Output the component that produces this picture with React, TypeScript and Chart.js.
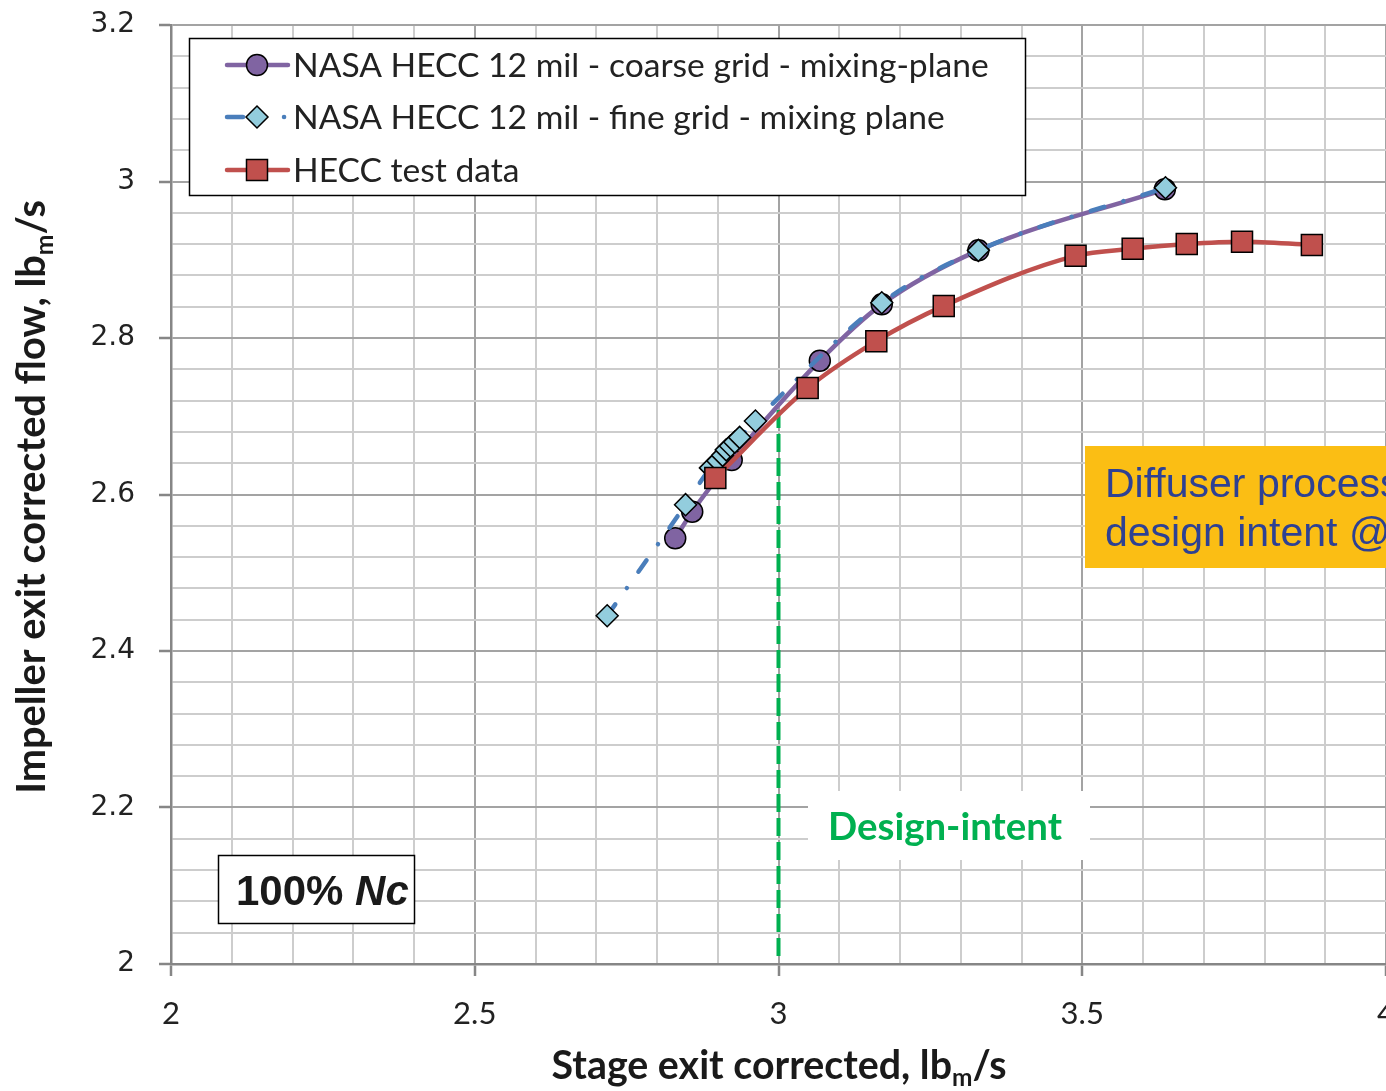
import React, { useEffect, useRef } from 'react';
import { Chart, registerables } from 'chart.js';

Chart.register(...registerables);

// ---- data ----
const coarseX = [2.830, 2.858, 2.923, 3.068, 3.170, 3.329, 3.636];
const coarseY = [2.544, 2.578, 2.644, 2.771, 2.843, 2.912, 2.990];

const fineX = [2.718, 2.847, 2.888, 2.900, 2.908, 2.914, 2.921, 2.928, 2.936, 2.962, 3.170, 3.329, 3.637];
const fineY = [2.445, 2.587, 2.634, 2.643, 2.650, 2.657, 2.662, 2.667, 2.673, 2.694, 2.845, 2.912, 2.992];

const testX = [2.896, 3.048, 3.161, 3.272, 3.489, 3.583, 3.672, 3.763, 3.878];
const testY = [2.621, 2.736, 2.796, 2.841, 2.905, 2.914, 2.920, 2.923, 2.919];

const designX = [3.0, 3.0];
const designY = [2.708, 2.008];

const seriesNames = [
  'NASA HECC 12 mil - coarse grid - mixing-plane',
  'NASA HECC 12 mil - fine grid - mixing plane',
  'HECC test data',
];

const xTickValues = [2, 2.5, 3, 3.5, 4];
const yTickValues = [2, 2.2, 2.4, 2.6, 2.8, 3, 3.2];

const xTitle = [{ t: 'Stage exit corrected, lb' }, { t: 'm', sub: true }, { t: '/s' }];
const yTitle = [{ t: 'Impeller exit corrected flow, lb' }, { t: 'm', sub: true }, { t: '/s' }];
const designLabel = 'Design-intent';
const speedLabel = [{ t: '100% ' }, { t: 'Nc', italic: true }];
const noteLines = ['Diffuser process', 'design intent @'];

const COLORS = {
  coarse: '#8064a2',
  fineLine: '#4a7ebb',
  fineFill: '#93cddd',
  test: '#c0504d',
  design: '#00b050',
};

const pts = (xs: number[], ys: number[]) => xs.map((x, i) => ({ x, y: ys[i] }));
const isMult = (v: number, step: number) => Math.abs(v / step - Math.round(v / step)) < 1e-6;
const near = (v: number, list: number[]) => list.some((t) => Math.abs(t - v) < 1e-6);

type Seg = { t: string; sub?: boolean; italic?: boolean };

function segFont(s: Seg, size: number, weight: string, family: string) {
  const sz = s.sub ? size * 0.62 : size;
  return `${s.italic ? 'italic ' : ''}${weight} ${sz}px ${family}`;
}
function richWidth(ctx: CanvasRenderingContext2D, segs: Seg[], size: number, weight: string, family: string) {
  let w = 0;
  for (const s of segs) {
    ctx.font = segFont(s, size, weight, family);
    w += ctx.measureText(s.t).width;
  }
  return w;
}
function fitSize(ctx: CanvasRenderingContext2D, segs: Seg[], weight: string, family: string, target: number) {
  const w = richWidth(ctx, segs, 100, weight, family);
  return (100 * target) / w;
}
function drawRich(
  ctx: CanvasRenderingContext2D,
  segs: Seg[],
  x: number,
  y: number,
  size: number,
  weight: string,
  family: string,
  color: string,
  align: 'left' | 'center',
) {
  const total = richWidth(ctx, segs, size, weight, family);
  let cx = align === 'center' ? x - total / 2 : x;
  ctx.fillStyle = color;
  ctx.textAlign = 'left';
  for (const s of segs) {
    ctx.font = segFont(s, size, weight, family);
    const dy = s.sub ? size * 0.32 : 0;
    ctx.fillText(s.t, cx, y + dy);
    cx += ctx.measureText(s.t).width;
  }
}

function drawMarker(ctx: CanvasRenderingContext2D, kind: string, x: number, y: number) {
  ctx.save();
  ctx.lineWidth = 1.5;
  ctx.strokeStyle = '#000';
  ctx.beginPath();
  if (kind === 'circle') {
    ctx.fillStyle = COLORS.coarse;
    ctx.arc(x, y, 10.5, 0, Math.PI * 2);
  } else if (kind === 'diamond') {
    ctx.fillStyle = COLORS.fineFill;
    ctx.moveTo(x - 11, y);
    ctx.lineTo(x, y - 11);
    ctx.lineTo(x + 11, y);
    ctx.lineTo(x, y + 11);
    ctx.closePath();
  } else {
    ctx.fillStyle = COLORS.test;
    ctx.rect(x - 10.5, y - 10.5, 21, 21);
  }
  ctx.fill();
  ctx.stroke();
  ctx.restore();
}

const overlayPlugin = {
  id: 'overlay',
  afterDatasetsDraw(chart: any) {
    const ctx: CanvasRenderingContext2D = chart.ctx;
    ctx.save();
    ctx.textBaseline = 'middle';

    // Legend
    ctx.fillStyle = '#fff';
    ctx.fillRect(189, 38, 836, 157);
    ctx.strokeStyle = '#000';
    ctx.lineWidth = 1.5;
    ctx.strokeRect(189.5, 38.5, 836, 157);
    const rows = [65, 117, 170];
    const lsize = fitSize(ctx, [{ t: seriesNames[0] }], 'normal', 'Lato', 696);
    ctx.lineCap = 'round';
    ctx.lineWidth = 4.5;
    ctx.strokeStyle = COLORS.coarse;
    ctx.beginPath();
    ctx.moveTo(227, rows[0]);
    ctx.lineTo(288, rows[0]);
    ctx.stroke();
    drawMarker(ctx, 'circle', 257, rows[0]);
    ctx.strokeStyle = COLORS.fineLine;
    ctx.lineWidth = 4.5;
    ctx.beginPath();
    ctx.moveTo(227, rows[1]);
    ctx.lineTo(243, rows[1]);
    ctx.stroke();
    ctx.beginPath();
    ctx.moveTo(284, rows[1]);
    ctx.lineTo(284.1, rows[1]);
    ctx.stroke();
    drawMarker(ctx, 'diamond', 257, rows[1]);
    ctx.strokeStyle = COLORS.test;
    ctx.beginPath();
    ctx.moveTo(227, rows[2]);
    ctx.lineTo(288, rows[2]);
    ctx.stroke();
    drawMarker(ctx, 'square', 257, rows[2]);
    ctx.textBaseline = 'middle';
    for (let i = 0; i < 3; i++) {
      drawRich(ctx, [{ t: seriesNames[i] }], 293, rows[i] + 1, lsize, 'normal', 'Lato', '#222', 'left');
    }

    // Design-intent label
    ctx.fillStyle = '#fff';
    ctx.fillRect(808, 791, 282, 69);
    const dsize = fitSize(ctx, [{ t: designLabel }], 'bold', 'Lato', 234);
    ctx.textBaseline = 'middle';
    drawRich(ctx, [{ t: designLabel }], 945, 828, dsize, 'bold', 'Lato', COLORS.design, 'center');

    // 100% Nc box
    ctx.fillStyle = '#fff';
    ctx.fillRect(218, 855, 197, 69);
    ctx.strokeStyle = '#000';
    ctx.lineWidth = 1.5;
    ctx.strokeRect(218.5, 855.5, 196, 68);
    ctx.textBaseline = 'alphabetic';
    drawRich(ctx, speedLabel, 236, 905, 42, 'bold', '"Liberation Sans", Arial', '#1a1a1a', 'left');

    // Note box
    ctx.fillStyle = '#fbbe14';
    ctx.fillRect(1085, 446, 400, 122);
    ctx.textBaseline = 'alphabetic';
    drawRich(ctx, [{ t: noteLines[0] }], 1105, 497, 41, 'normal', '"Liberation Sans", Arial', '#2e4193', 'left');
    drawRich(ctx, [{ t: noteLines[1] }], 1105, 546, 41, 'normal', '"Liberation Sans", Arial', '#2e4193', 'left');

    ctx.restore();
  },
  afterDraw(chart: any) {
    const ctx: CanvasRenderingContext2D = chart.ctx;
    ctx.save();
    ctx.textBaseline = 'middle';
    const xs = fitSize(ctx, xTitle, 'bold', 'Lato', 455);
    drawRich(ctx, xTitle, 779, 1066, xs, 'bold', 'Lato', '#1a1a1a', 'center');
    const ys = fitSize(ctx, yTitle, 'bold', 'Lato', 594);
    ctx.translate(32, 497);
    ctx.rotate(-Math.PI / 2);
    drawRich(ctx, yTitle, 0, 0, ys, 'bold', 'Lato', '#1a1a1a', 'center');
    ctx.restore();
  },
};

export default function App() {
  const ref = useRef<HTMLCanvasElement | null>(null);

  useEffect(() => {
    const canvas = ref.current;
    if (!canvas) return;
    const gridColor = (major: boolean) => (major ? '#a3a3a3' : '#cdcdcd');
    const chart = new Chart(canvas, {
      type: 'scatter',
      data: {
        datasets: [
          {
            label: 'Design-intent',
            data: pts(designX, designY),
            showLine: true,
            borderColor: COLORS.design,
            borderWidth: 4,
            borderDash: [18, 6],
            pointRadius: 0,
            order: 4,
          },
          {
            label: seriesNames[0],
            data: pts(coarseX, coarseY),
            showLine: true,
            borderColor: COLORS.coarse,
            borderWidth: 4.5,
            cubicInterpolationMode: 'monotone',
            pointStyle: 'circle',
            pointRadius: 10.5,
            pointBackgroundColor: COLORS.coarse,
            pointBorderColor: '#000',
            pointBorderWidth: 1.5,
            order: 3,
          },
          {
            label: seriesNames[1],
            data: pts(fineX, fineY),
            showLine: true,
            borderColor: COLORS.fineLine,
            borderWidth: 4.5,
            borderDash: [14, 20, 0.01, 20],
            borderCapStyle: 'round',
            cubicInterpolationMode: 'monotone',
            pointStyle: 'rectRot',
            pointRadius: 11,
            pointBackgroundColor: COLORS.fineFill,
            pointBorderColor: '#000',
            pointBorderWidth: 1.5,
            order: 2,
          },
          {
            label: seriesNames[2],
            data: pts(testX, testY),
            showLine: true,
            borderColor: COLORS.test,
            borderWidth: 4.5,
            cubicInterpolationMode: 'monotone',
            pointStyle: 'rect',
            pointRadius: 14.85,
            pointBackgroundColor: COLORS.test,
            pointBorderColor: '#000',
            pointBorderWidth: 1.5,
            order: 1,
          },
        ],
      },
      options: {
        responsive: false,
        animation: false,
        devicePixelRatio: 1,
        layout: { padding: { left: 0, top: 25, right: 34, bottom: 0 } },
        plugins: { legend: { display: false }, tooltip: { enabled: false } },
        scales: {
          x: {
            type: 'linear',
            min: 2,
            max: 4,
            afterFit: (s: any) => {
              s.height = 127;
              s.paddingLeft = 0;
              s.paddingRight = 0;
              s.paddingTop = 0;
              s.paddingBottom = 0;
            },
            afterBuildTicks: (s: any) => {
              const t = [];
              for (let i = 0; i <= 20; i++) t.push({ value: 2 + i * 0.1 });
              s.ticks = t;
            },
            ticks: {
              autoSkip: false,
              maxRotation: 0,
              padding: 19,
              color: '#222',
              font: { family: 'Lato', size: 31 },
              callback: (v: any) => (near(Number(v), xTickValues) ? String(Number(Number(v).toFixed(1))) : ''),
            },
            grid: {
              color: (c: any) => gridColor(isMult(c.tick.value, 0.5)),
              lineWidth: 2,
              tickLength: 12,
              tickColor: (c: any) => (isMult(c.tick.value, 0.5) ? '#868686' : 'rgba(0,0,0,0)'),
              tickWidth: 2.5,
            },
            border: { color: '#868686', width: 2.5 },
          },
          y: {
            type: 'linear',
            min: 2,
            max: 3.2,
            afterFit: (s: any) => {
              s.width = 171;
              s.paddingLeft = 0;
              s.paddingRight = 0;
              s.paddingTop = 0;
              s.paddingBottom = 0;
            },
            afterBuildTicks: (s: any) => {
              const t = [];
              for (let i = 0; i <= 30; i++) t.push({ value: 2 + i * 0.04 });
              s.ticks = t;
            },
            ticks: {
              autoSkip: false,
              padding: 24,
              color: '#222',
              font: { family: '"DejaVu Sans"', size: 28 },
              callback: (v: any) => (near(Number(v), yTickValues) ? String(Number(Number(v).toFixed(1))) : ''),
            },
            grid: {
              color: (c: any) => gridColor(isMult(c.tick.value, 0.2)),
              lineWidth: 2,
              tickLength: 12,
              tickColor: (c: any) => (isMult(c.tick.value, 0.2) ? '#868686' : 'rgba(0,0,0,0)'),
              tickWidth: 2.5,
            },
            border: { color: '#868686', width: 2.5 },
          },
        },
      },
      plugins: [overlayPlugin],
    } as any);
    return () => chart.destroy();
  }, []);

  return (
    <div
      style={{
        position: 'fixed',
        left: 0,
        top: 0,
        width: 1386,
        height: 1091,
        overflow: 'hidden',
        background: '#fff',
      }}
    >
      <canvas ref={ref} width={1420} height={1091} style={{ display: 'block' }} />
    </div>
  );
}
